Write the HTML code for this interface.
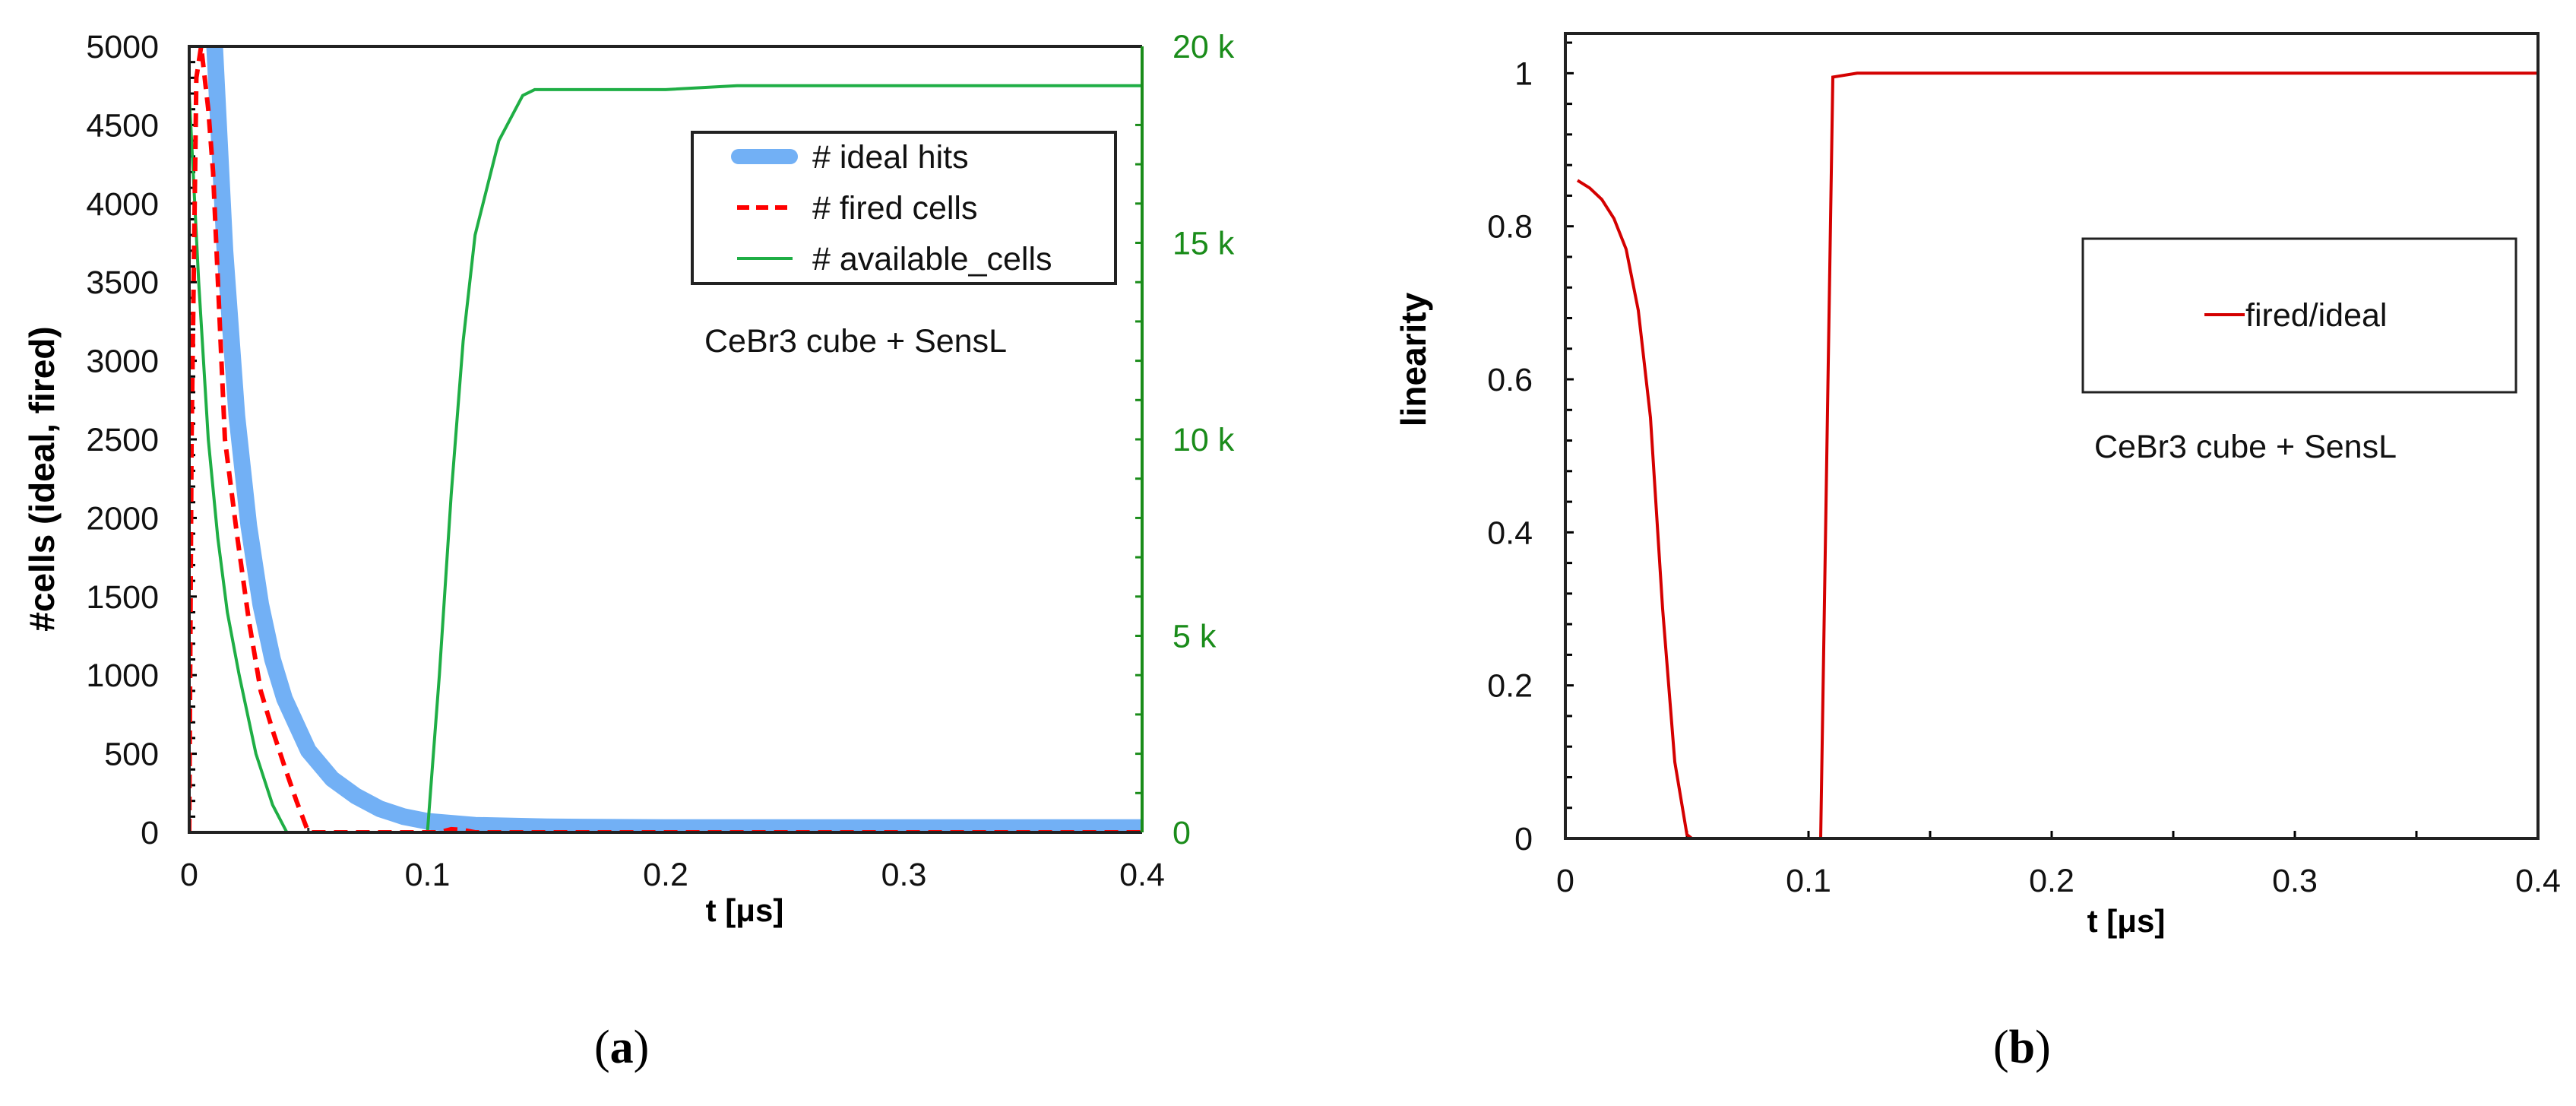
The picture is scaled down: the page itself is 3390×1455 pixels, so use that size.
<!DOCTYPE html>
<html><head><meta charset="utf-8"><style>
html,body{margin:0;padding:0;background:#fff;}
svg{display:block;font-family:"Liberation Sans",sans-serif;}
</style></head><body>
<svg id="fig" width="3390" height="1455" viewBox="0 0 3390 1455"></svg>
<script>
// ---- Chart (a) data ----
const idealT = [0.006,0.008,0.01,0.012,0.015,0.02,0.025,0.03,0.035,0.04,0.05,0.06,0.07,0.08,0.09,0.1,0.12,0.15,0.2,0.3,0.4];
const idealV = [7000,6000,5200,4600,3700,2650,1950,1450,1100,850,520,340,230,150,100,70,45,35,30,30,30];
const firedT = [0,0.001,0.003,0.005,0.008,0.01,0.015,0.02,0.025,0.03,0.035,0.04,0.045,0.05,0.1,0.105,0.11,0.115,0.12,0.4];
const firedV = [0,2500,4800,5000,4600,4200,2500,1900,1350,900,650,420,200,0,0,0,20,15,0,0];
const availT = [0,0.004,0.008,0.012,0.016,0.021,0.028,0.035,0.041,0.1,0.105,0.11,0.115,0.12,0.13,0.14,0.145,0.2,0.23,0.4];
const availV = [18.8,14,10,7.5,5.6,4,2,0.7,0,0,4,8.6,12.5,15.2,17.6,18.75,18.9,18.9,19.0,19.0];
const aYTicks = [0,500,1000,1500,2000,2500,3000,3500,4000,4500,5000];
const aY2Ticks = [0,5,10,15,20];
const aY2Labels = ["0","5 k","10 k","15 k","20 k"];
const xTicks = [0,0.1,0.2,0.3,0.4];
const xTickLabels = ["0","0.1","0.2","0.3","0.4"];
// ---- Chart (b) data ----
const linT = [0.005,0.01,0.015,0.02,0.025,0.03,0.035,0.04,0.045,0.05,0.052,0.105,0.11,0.12,0.4];
const linV = [0.86,0.85,0.835,0.81,0.77,0.69,0.55,0.3,0.1,0.005,0,0,0.995,1.0,1.0];
const bYTicks = [0,0.2,0.4,0.6,0.8,1];
const bYLabels = ["0","0.2","0.4","0.6","0.8","1"];

const NS="http://www.w3.org/2000/svg";
const svg=document.getElementById('fig');
function mk(tag,attrs,parent){const e=document.createElementNS(NS,tag);for(const k in attrs)e.setAttribute(k,attrs[k]);(parent||svg).appendChild(e);return e;}
function txt(s,attrs,parent){const e=mk('text',attrs,parent);e.textContent=s;return e;}
function pathFrom(T,V,sx,sy){return T.map((t,i)=>(i?'L':'M')+sx(t).toFixed(1)+' '+sy(V[i]).toFixed(1)).join(' ');}

// ===== Chart A =====
const A={l:249,r:1503,t:61,b:1095};
const axA=t=>A.l+(t/0.4)*(A.r-A.l);
const ayA=v=>A.b-(v/5000)*(A.b-A.t);
const ay2A=v=>A.b-(v/20)*(A.b-A.t);
const gA=mk('g',{});


mk('defs',{}).innerHTML='<clipPath id="clipA"><rect x="'+A.l+'" y="'+A.t+'" width="'+(A.r-A.l)+'" height="'+(A.b-A.t)+'"/></clipPath><clipPath id="clipB"><rect x="2060" y="44" width="1280" height="1060"/></clipPath>';
for(let v=0;v<=5000;v+=100){const y=ayA(v);const l=mk('line',{x1:A.l,x2:A.l+(v%500===0?10:8),y1:y,y2:y,stroke:'#000','stroke-width':3},gA);}
for(let v=0;v<=20;v+=1){const y=ay2A(v);const l=mk('line',{x1:A.r-9,x2:A.r,y1:y,y2:y,stroke:'#1a8c1a','stroke-width':3},gA);}
for(let t=0.05;t<0.4;t+=0.05){const x=axA(t);const l=mk('line',{x1:x,x2:x,y1:A.b,y2:A.b-6,stroke:'#333','stroke-width':3},gA);}
const sI=mk('path',{d:pathFrom(idealT,idealV,axA,ayA),fill:'none',stroke:'#72b0f5','stroke-width':22,'stroke-linejoin':'round','clip-path':'url(#clipA)'},gA);

const sA=mk('path',{d:pathFrom(availT,availV,axA,ay2A),fill:'none',stroke:'#1fae45','stroke-width':4,'clip-path':'url(#clipA)'},gA);

const sF=mk('path',{d:pathFrom(firedT,firedV,axA,ayA),fill:'none',stroke:'#ff0000','stroke-width':6,'stroke-dasharray':'18 11','clip-path':'url(#clipA)'},gA);

const fa=mk('path',{d:`M${A.r} ${A.t} L${A.l} ${A.t} L${A.l} ${A.b} L${A.r} ${A.b}`,fill:'none',stroke:'#222','stroke-width':4},gA);

const ra=mk('line',{x1:A.r,x2:A.r,y1:A.t,y2:A.b,stroke:'#1a8c1a','stroke-width':4},gA);

aYTicks.forEach(v=>{const e=txt(String(v),{x:209,y:ayA(v)+15,'text-anchor':'end','font-size':43,fill:'#111'},gA);});
aY2Ticks.forEach((v,i)=>{const e=txt(aY2Labels[i],{x:1543,y:ay2A(v)+15,'font-size':43,fill:'#1a8c1a'},gA);});
xTicks.forEach((v,i)=>{const e=txt(xTickLabels[i],{x:axA(v),y:1165,'text-anchor':'middle','font-size':43,fill:'#111'},gA);});
let e=txt('t [μs]',{x:980,y:1212,'text-anchor':'middle','font-size':42,'font-weight':'bold'},gA);
e=txt('#cells (ideal, fired)',{x:0,y:0,transform:'translate(71,630) rotate(-90)','text-anchor':'middle','font-size':46,'font-weight':'bold'},gA);
const lgA=mk('g',{},gA);
mk('rect',{x:911,y:174,width:557,height:199,fill:'#fff',stroke:'#222','stroke-width':4},lgA);
mk('line',{x1:972,x2:1040,y1:206,y2:206,stroke:'#72b0f5','stroke-width':20,'stroke-linecap':'round'},lgA);
mk('line',{x1:970,x2:1043,y1:273,y2:273,stroke:'#ff0000','stroke-width':6,'stroke-dasharray':'16 9'},lgA);
mk('line',{x1:970,x2:1043,y1:340,y2:340,stroke:'#1fae45','stroke-width':4},lgA);
[['# ideal hits',206],['# fired cells',273],['# available_cells',340]].forEach(a=>{const t=txt(a[0],{x:1069,y:a[1]+15,'font-size':43,fill:'#111'},lgA);});
e=txt('CeBr3 cube + SensL',{x:927,y:463,'font-size':43,fill:'#111'},gA);
e=txt('(',{x:782,y:1398,'font-size':62,'font-family':'Liberation Serif, serif'},gA);

e.innerHTML='(<tspan font-weight="bold">a</tspan>)';

// ===== Chart B =====
const B={l:2060,r:3340,t:44,b:1103};
const axB=t=>B.l+(t/0.4)*(B.r-B.l);
const ayB=v=>B.b-(v/1.052)*(B.b-B.t);
const gB=mk('g',{});


for(let k=0;k<=26;k++){const v=k*0.04;const y=ayB(v);if(y<B.t)break;const l=mk('line',{x1:B.l,x2:B.l+(k%5===0?11:9),y1:y,y2:y,stroke:'#000','stroke-width':3},gB);}
for(let k=1;k<8;k++){const x=axB(k*0.05);const l=mk('line',{x1:x,x2:x,y1:B.b,y2:B.b-10,stroke:'#000','stroke-width':3},gB);}
const sL=mk('path',{d:pathFrom(linT,linV,axB,ayB),fill:'none',stroke:'#d40000','stroke-width':4,'clip-path':'url(#clipB)'},gB);

const fb=mk('rect',{x:B.l,y:B.t,width:B.r-B.l,height:B.b-B.t,fill:'none',stroke:'#222','stroke-width':4},gB);

bYTicks.forEach((v,i)=>{const t=txt(bYLabels[i],{x:2017,y:ayB(v)+15,'text-anchor':'end','font-size':43,fill:'#111'},gB);});
xTicks.forEach((v,i)=>{const t=txt(xTickLabels[i],{x:axB(v),y:1173,'text-anchor':'middle','font-size':43,fill:'#111'},gB);});
e=txt('t [μs]',{x:2798,y:1226,'text-anchor':'middle','font-size':42,'font-weight':'bold'},gB);
e=txt('linearity',{x:0,y:0,transform:'translate(1876,473) rotate(-90)','text-anchor':'middle','font-size':46,'font-weight':'bold'},gB);
const lgB=mk('g',{},gB);
mk('rect',{x:2741,y:314,width:570,height:202,fill:'#fff',stroke:'#222','stroke-width':3},lgB);
mk('line',{x1:2901,x2:2954,y1:414,y2:414,stroke:'#d40000','stroke-width':4},lgB);
e=txt('fired/ideal',{x:2955,y:429,'font-size':43,fill:'#111'},lgB);
e=txt('CeBr3 cube + SensL',{x:2756,y:602,'font-size':43,fill:'#111'},gB);
e=txt('(',{x:2623,y:1398,'font-size':62,'font-family':'Liberation Serif, serif'},gB);

e.innerHTML='(<tspan font-weight="bold">b</tspan>)';
</script>
</body></html>
